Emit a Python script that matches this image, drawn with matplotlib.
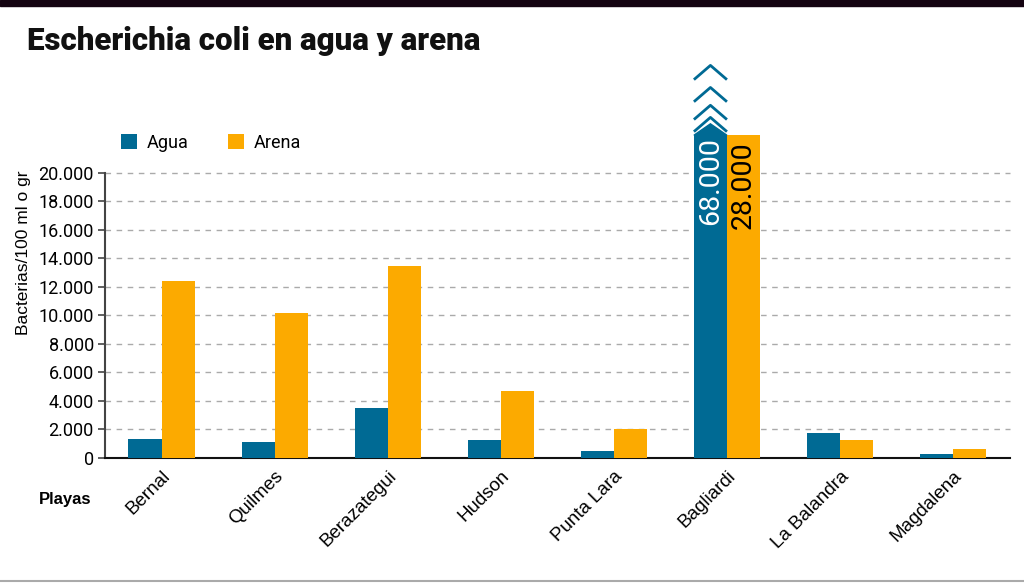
import matplotlib.pyplot as plt
import matplotlib.ticker as mticker
import numpy as np

playas = ["Bernal", "Quilmes", "Berazategui", "Hudson", "Punta Lara",
          "Bagliardi", "La Balandra", "Magdalena"]
agua = [1300, 1150, 3500, 1250, 500, 68000, 1750, 300]
arena = [12400, 10200, 13500, 4700, 2000, 28000, 1250, 650]

# values above the axis are drawn as broken bars up to this height
tope = 22650
yticks = list(range(0, 20001, 2000))

azul = "#006a94"
naranja = "#fcaa00"
narrow = ["Roboto", "DejaVu Sans"]


def miles(v):
    return f"{int(v):,}".replace(",", ".")


fig = plt.figure(figsize=(10.24, 5.84), dpi=100)
ax = fig.add_axes([0.1025, 0.2158, 0.8835, 0.488])

x = np.arange(len(playas))
w = 0.292
alto_agua = [min(v, tope) for v in agua]
alto_arena = [min(v, tope) for v in arena]
ax.bar(x - w / 2, alto_agua, w, color=azul, label="Agua", zorder=3, clip_on=False)
ax.bar(x + w / 2, alto_arena, w, color=naranja, label="Arena", zorder=3, clip_on=False)

# broken bar marks on the values that don't fit
for i, v in enumerate(agua):
    if v > tope:
        xl, xr = x[i] - w, x[i]
        xm = (xl + xr) / 2
        ax.fill([xl, xm, xr], [tope, tope + 800, tope], color=azul, zorder=3, clip_on=False)
        for tip in [tope + 1250, tope + 2100, tope + 3350, tope + 4900]:
            ax.plot([xl, xm, xr], [tip - 1000, tip, tip - 1000], color=azul, lw=2,
                    zorder=4, clip_on=False, solid_capstyle="butt")
        ax.text(xm, tope - 100, miles(v), rotation=90, ha="center", va="top",
                color="white", fontsize=20.5, family=narrow, zorder=5)
for i, v in enumerate(arena):
    if v > tope:
        ax.text(x[i] + w / 2, tope - 400, miles(v), rotation=90, ha="center", va="top",
                color="black", fontsize=20.5, family=narrow, zorder=5)

ax.set_xlim(-0.5, 7.5)
ax.set_ylim(0, 20000)
ax.set_yticks(yticks)
ax.yaxis.set_major_formatter(mticker.FuncFormatter(lambda v, p: miles(v)))
for lab in ax.get_yticklabels():
    lab.set_family(narrow)
ax.tick_params(axis="y", labelsize=13, length=5, width=1.2, color="#444444", pad=3)
ax.tick_params(axis="x", length=0, pad=7)
ax.set_xticks(x)
ax.set_xticklabels(playas, rotation=45, ha="right", rotation_mode="anchor",
                   fontsize=13.5, family="Liberation Sans")

for yv in yticks[1:]:
    ax.axhline(yv, color="#aaaaaa", lw=1, ls=(0, (4, 4)), zorder=1, clip_on=False)

for s in ["top", "right"]:
    ax.spines[s].set_visible(False)
ax.spines["left"].set_color("#444444")
ax.spines["left"].set_linewidth(1.5)
ax.spines["bottom"].set_color("#111111")
ax.spines["bottom"].set_linewidth(1.5)

ax.set_ylabel("Bacterias/100 ml o gr", fontsize=12.5, family="Liberation Sans")
ax.yaxis.set_label_coords(-0.082, 0.72)

fig.text(0.089, 0.145, "Playas", fontsize=12, fontweight="bold", family="Liberation Sans",
         ha="right", va="center")
fig.text(0.026, 0.93, "Escherichia coli en agua y arena", fontsize=22.5, fontweight="black",
         family=narrow, color="#111111", ha="left", va="center")

ax.legend(loc="lower left", bbox_to_anchor=(0.01, 1.05), ncol=2, frameon=False,
          handlelength=0.9, handleheight=0.9, handletextpad=0.5,
          columnspacing=2.2, borderaxespad=0, prop={"family": narrow, "size": 13})

# black band on top, thin grey line at the bottom
fig.add_artist(plt.Rectangle((0, 0.99), 1, 0.01, transform=fig.transFigure,
                             color="#140311", zorder=10))
fig.add_artist(plt.Line2D([0, 1], [0.005, 0.005], transform=fig.transFigure,
                          color="#aaaaaa", lw=1.5))

fig.savefig("out.png", dpi=100)
